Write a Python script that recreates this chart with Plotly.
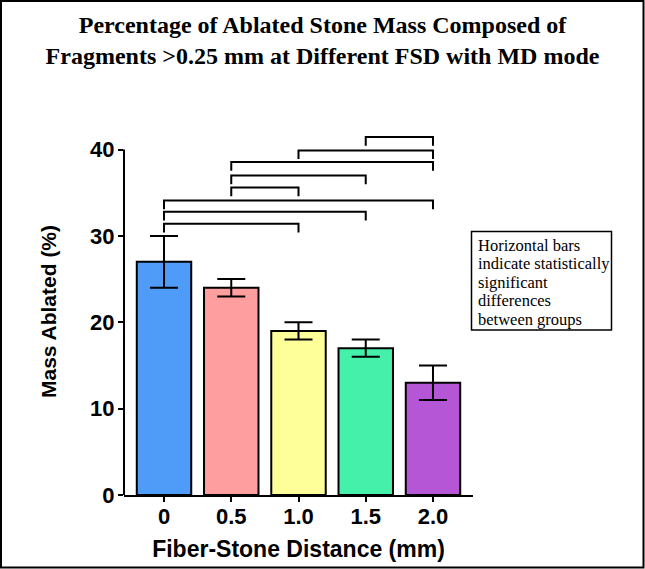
import plotly.graph_objects as go

# ---------------- data ----------------
categories = ["0", "0.5", "1.0", "1.5", "2.0"]
mass_ablated = [27, 24, 19, 17, 13]
mass_error = [3, 1, 1, 1, 2]
bar_colors = ["#4f9bf8", "#ff9e9e", "#ffff99", "#44f0aa", "#b456d6"]
y_ticks = [0, 10, 20, 30, 40]

# significance brackets: group index pairs and bracket heights (%)
bracket_left = [3, 2, 1, 1, 1, 0, 0, 0]
bracket_right = [4, 4, 4, 3, 2, 4, 3, 2]
bracket_height = [41.45, 39.9, 38.55, 37.0, 35.6, 34.1, 32.8, 31.4]
bracket_drop = 1.0

note_lines = ["Horizontal bars", "indicate statistically", "significant",
              "differences", "between groups"]

title_text = ("Percentage of Ablated Stone Mass Composed of<br>"
              "Fragments &gt;0.25 mm at Different FSD with MD mode")

# ---------------- layout geometry ----------------
W, H = 645, 569
ML, MR, MT, MB = 124, 172, 128, 74
PW, PH = W - ML - MR, H - MT - MB
Y_MAX = 42.5


def px_x(px):
    return (px - ML) / PW


def px_y(py):
    return (H - MB - py) / PH


sans = "Arial, Liberation Sans, sans-serif"
serif = "Times New Roman, Liberation Serif, serif"

x_pos = list(range(len(categories)))

fig = go.Figure()
fig.add_trace(go.Bar(
    x=x_pos, y=mass_ablated, width=0.81,
    marker=dict(color=bar_colors, line=dict(color="black", width=2)),
    error_y=dict(type="data", array=mass_error, visible=True,
                 color="black", thickness=2, width=14),
    showlegend=False, hoverinfo="skip",
))

for a, b, h in zip(bracket_left, bracket_right, bracket_height):
    fig.add_trace(go.Scatter(
        x=[a, a, b, b], y=[h - bracket_drop, h, h, h - bracket_drop],
        mode="lines", line=dict(color="black", width=2),
        showlegend=False, hoverinfo="skip",
    ))

shapes = []
# y axis line only up to 40
shapes.append(dict(type="line", xref="paper", yref="paper",
                   x0=0, x1=0, y0=0, y1=y_ticks[-1] / Y_MAX,
                   line=dict(color="black", width=2)))
# outer frame
shapes.append(dict(type="rect", xref="paper", yref="paper",
                   x0=px_x(1), x1=px_x(643.5), y0=px_y(1), y1=px_y(567.5),
                   line=dict(color="black", width=2), fillcolor="rgba(0,0,0,0)"))
# note box
shapes.append(dict(type="rect", xref="paper", yref="paper",
                   x0=px_x(471.5), x1=px_x(611.5), y0=px_y(231.5), y1=px_y(330),
                   line=dict(color="black", width=1.5), fillcolor="white"))

annotations = []
for i, line in enumerate(note_lines):
    annotations.append(dict(
        text=line, xref="paper", yref="paper",
        x=px_x(475.5), y=px_y(245 + 18.6 * i),
        xanchor="left", yanchor="middle", showarrow=False,
        font=dict(family=serif, size=16.5, color="black"),
    ))

fig.update_layout(
    width=W, height=H,
    margin=dict(l=ML, r=MR, t=MT, b=MB, pad=0),
    paper_bgcolor="white", plot_bgcolor="white",
    title=dict(text=title_text, x=0.5, xanchor="center",
               y=1 - 33 / H, yanchor="top", yref="container",
               font=dict(family=serif, size=24, color="black", weight="bold")),
    xaxis=dict(range=[-0.595, 4.595], tickvals=x_pos, ticktext=categories,
               showline=True, linecolor="black", linewidth=2,
               ticks="outside", ticklen=5, tickwidth=2, tickcolor="black",
               ticklabelstandoff=-4,
               showgrid=False, zeroline=False, automargin=False,
               tickfont=dict(family=sans, size=22, color="black", weight="bold"),
               title=dict(text="Fiber-Stone Distance (mm)", standoff=12,
                          font=dict(family=sans, size=23, color="black", weight="bold"))),
    yaxis=dict(range=[0, Y_MAX], tickvals=y_ticks,
               showline=False, ticks="outside", ticklen=5, tickwidth=2,
               ticklabelstandoff=-1,
               tickcolor="black", showgrid=False, zeroline=False, automargin=False,
               tickfont=dict(family=sans, size=22, color="black", weight="bold"),
               title=dict(text="Mass Ablated (%)", standoff=27,
                          font=dict(family=sans, size=21, color="black", weight="bold"))),
    shapes=shapes,
    annotations=annotations,
)

fig.write_html("out.html")
